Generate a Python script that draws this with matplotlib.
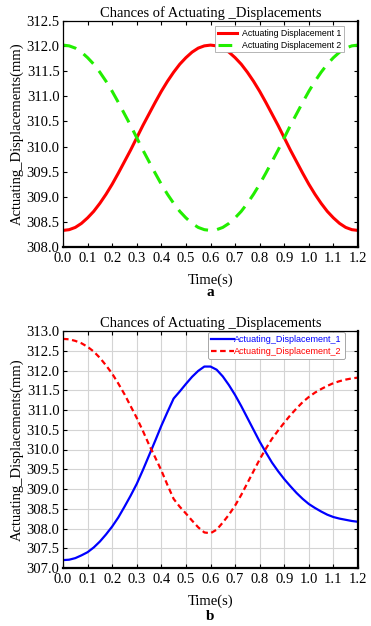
import matplotlib
matplotlib.use("Agg")
import matplotlib.pyplot as plt
import numpy as np

# ---- data ----
t = [0.000, 0.025, 0.050, 0.075, 0.100, 0.125, 0.150, 0.175, 0.200, 0.225, 0.250, 0.275,
     0.300, 0.325, 0.350, 0.375, 0.400, 0.425, 0.450, 0.475, 0.500, 0.525, 0.550, 0.575,
     0.600, 0.625, 0.650, 0.675, 0.700, 0.725, 0.750, 0.775, 0.800, 0.825, 0.850, 0.875,
     0.900, 0.925, 0.950, 0.975, 1.000, 1.025, 1.050, 1.075, 1.100, 1.125, 1.150, 1.175,
     1.200]

a_disp1 = [308.33, 308.345, 308.39, 308.47, 308.58, 308.71, 308.87, 309.05, 309.25,
           309.47, 309.70, 309.93, 310.175, 310.42, 310.65, 310.88, 311.10, 311.30,
           311.48, 311.64, 311.77, 311.88, 311.96, 312.005, 312.02, 312.005, 311.96,
           311.88, 311.77, 311.64, 311.48, 311.30, 311.10, 310.88, 310.65, 310.42,
           310.175, 309.93, 309.70, 309.47, 309.25, 309.05, 308.87, 308.71, 308.58,
           308.47, 308.39, 308.345, 308.33]
a_disp2 = [312.02, 312.005, 311.96, 311.88, 311.77, 311.64, 311.48, 311.30, 311.10,
           310.88, 310.65, 310.42, 310.175, 309.93, 309.70, 309.47, 309.25, 309.05,
           308.87, 308.71, 308.58, 308.47, 308.39, 308.345, 308.33, 308.345, 308.39,
           308.47, 308.58, 308.71, 308.87, 309.05, 309.25, 309.47, 309.70, 309.93,
           310.175, 310.42, 310.65, 310.88, 311.10, 311.30, 311.48, 311.64, 311.77,
           311.88, 311.96, 312.005, 312.02]

b_disp1 = [307.20, 307.21, 307.25, 307.32, 307.40, 307.52, 307.67, 307.85, 308.05,
           308.28, 308.55, 308.83, 309.13, 309.48, 309.85, 310.22, 310.60, 310.95,
           311.29, 311.47, 311.66, 311.84, 311.99, 312.10, 312.10, 312.02, 311.85,
           311.63, 311.38, 311.10, 310.80, 310.50, 310.20, 309.93, 309.67, 309.45,
           309.25, 309.07, 308.90, 308.75, 308.62, 308.52, 308.43, 308.35, 308.29,
           308.25, 308.22, 308.19, 308.17]
b_disp2 = [312.80, 312.79, 312.75, 312.69, 312.60, 312.48, 312.32, 312.13, 311.92,
           311.67, 311.40, 311.10, 310.80, 310.47, 310.12, 309.80, 309.47, 309.10,
           308.75, 308.55, 308.38, 308.20, 308.03, 307.90, 307.88, 307.97, 308.15,
           308.35, 308.58, 308.85, 309.15, 309.45, 309.75, 310.02, 310.27, 310.48,
           310.68, 310.87, 311.04, 311.20, 311.33, 311.44, 311.53, 311.61, 311.68,
           311.73, 311.77, 311.80, 311.82]

title = "Chances of Actuating _Displacements"
xlabel = "Time(s)"
ylabel = "Actuating_Displacements(mm)"

serif = ["Liberation Serif", "DejaVu Serif"]
sans = ["Liberation Sans", "DejaVu Sans"]

fig = plt.figure(figsize=(3.71, 6.26), dpi=100)
W, H = 371, 626

def axes_px(l, t_, r, b):
    return fig.add_axes([l / W, 1 - b / H, (r - l) / W, (b - t_) / H])

ax1 = axes_px(63, 21, 358, 247)
ax2 = axes_px(63, 331, 358, 568)

def style(ax, ylim, yticks, grid):
    xt = np.arange(0, 1.21, 0.1)
    ax.set_xlim(0, 1.2)
    ax.set_ylim(*ylim)
    ax.set_xticks(xt)
    ax.set_yticks(yticks)
    ax.set_xticklabels([f"{v:.1f}" for v in xt], fontfamily=serif, fontsize=10.5)
    ax.set_yticklabels([f"{v:.1f}" for v in yticks], fontfamily=serif, fontsize=10.5)
    ax.tick_params(direction="in", top=True, right=True, length=3, width=0.8)
    ax.tick_params(axis="x", pad=3.5)
    ax.tick_params(axis="y", pad=2.5)
    for s in ["left", "top"]:
        ax.spines[s].set_linewidth(0.9)
    for s in ["right", "bottom"]:
        ax.spines[s].set_linewidth(1.6)
    ax.set_title(title, fontfamily=serif, fontsize=10.5, pad=3)
    ax.set_xlabel(xlabel, fontfamily=serif, fontsize=10.5, labelpad=6)
    ax.set_ylabel(ylabel, fontfamily=serif, fontsize=10.5, labelpad=2)
    if grid:
        ax.grid(True, color="#d4d4d4", linewidth=0.8)
        ax.set_axisbelow(True)

style(ax1, (308.0, 312.5), np.arange(308.0, 312.51, 0.5), False)
style(ax2, (307.0, 313.0), np.arange(307.0, 313.01, 0.5), True)

ax1.plot(t, a_disp1, color="#ff0000", lw=2.2, label="Actuating Displacement 1")
ax1.plot(t, a_disp2, color="#22ee00", lw=2.2, dashes=(4.5, 3), label="Actuating Displacement 2")
leg1 = ax1.legend(loc="upper right", bbox_to_anchor=(0.953, 0.978), borderaxespad=0,
                  prop={"family": sans, "size": 6.3}, fancybox=False, framealpha=1,
                  edgecolor="#aaaaaa", handlelength=2.2, handletextpad=0.6,
                  borderpad=0.3, labelspacing=0.35)
leg1.get_frame().set_linewidth(0.6)

ax2.plot(t, b_disp1, color="#0000ff", lw=1.6, label="Actuating_Displacement_1")
ax2.plot(t, b_disp2, color="#ff0000", lw=1.6, dashes=(2.5, 1.6), label="Actuating_Displacement_2")
leg2 = ax2.legend(loc="upper right", bbox_to_anchor=(0.956, 0.996), borderaxespad=0,
                  prop={"family": sans, "size": 6.5}, fancybox=True, framealpha=1,
                  edgecolor="#999999", handlelength=2.6, handletextpad=0.0,
                  borderpad=0.35, labelspacing=0.3, labelcolor="linecolor")
leg2.get_frame().set_linewidth(0.6)

fig.text(210.5 / W, 1 - 293 / H, "a", fontfamily=serif, fontsize=11, fontweight="bold",
         ha="center", va="center")
fig.text(210.5 / W, 1 - 617 / H, "b", fontfamily=serif, fontsize=11, fontweight="bold",
         ha="center", va="center")

fig.savefig("out.png", dpi=100)
